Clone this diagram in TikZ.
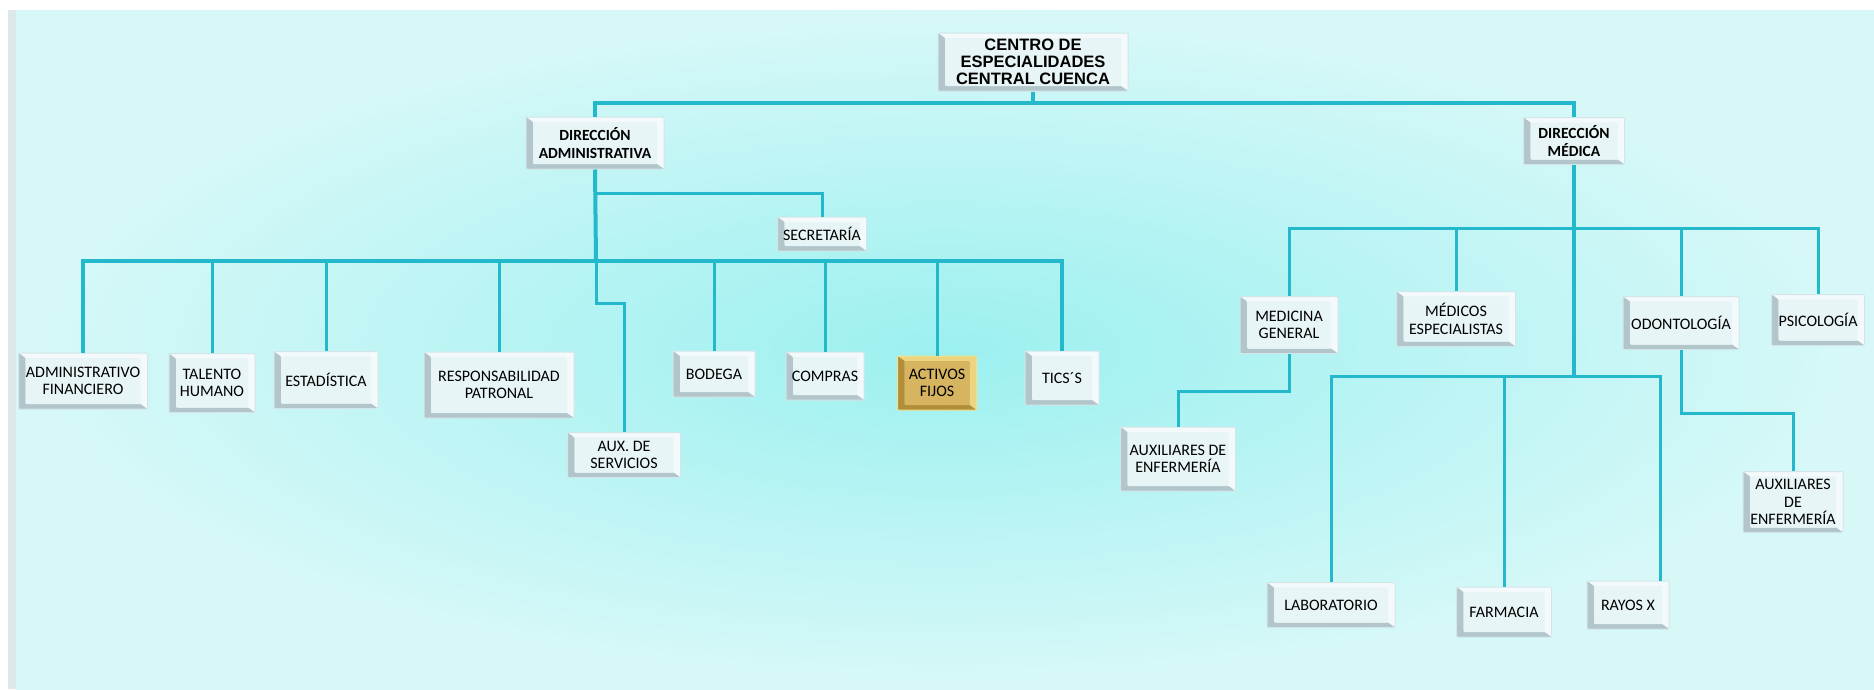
\documentclass[tikz,border=0pt]{standalone}
\usepackage{fontspec}
\setmainfont{Carlito}
\newfontfamily\titlefont{Liberation Sans}
\usepackage{tikz}
\usetikzlibrary{positioning}
\usetikzlibrary{calc}
\definecolor{mylink}{RGB}{35,184,204}
\definecolor{bgin}{RGB}{156,240,240}
\definecolor{bgout}{RGB}{216,248,248}
\definecolor{sidebar}{RGB}{220,232,234}
\definecolor{bevlight}{RGB}{244,250,251}
\definecolor{bevdark}{RGB}{178,197,202}
\definecolor{bevface}{RGB}{232,245,247}
\definecolor{bevedge}{RGB}{210,230,233}
\definecolor{goldlight}{RGB}{236,212,128}
\definecolor{golddark}{RGB}{178,142,58}
\definecolor{goldface}{RGB}{214,180,96}
\definecolor{goldedge}{RGB}{240,226,140}

\tikzset{
  bevel/.style n args={3}{
    fill=#3,
    path picture={
      \coordinate (bnw) at (path picture bounding box.north west);
      \coordinate (bse) at (path picture bounding box.south east);
      \coordinate (bne) at (bse |- bnw);
      \coordinate (bsw) at (bnw |- bse);
      \coordinate (inw) at ([shift={(7pt,-5pt)}]bnw);
      \coordinate (ise) at ([shift={(-7pt,5pt)}]bse);
      \coordinate (ine) at (ise |- inw);
      \coordinate (isw) at (inw |- ise);
      \fill[#1] (bnw) -- (bne) -- (bse) -- (ise) -- (ine) -- (inw) -- cycle;
      \fill[#2] (bnw) -- (bsw) -- (bse) -- (ise) -- (isw) -- (inw) -- cycle;
      \fill[#3] (inw) rectangle (ise);
    }},
  sz/.style 2 args={minimum width=#1pt, minimum height=#2pt},
  unitbox/.style={bevel={bevlight}{bevdark}{bevface}, draw=bevedge, line width=1pt,
    rounded corners=1pt, inner sep=0pt, align=center,
    font=\fontsize{16}{17.5}\selectfont},
  goldbox/.style={bevel={goldlight}{golddark}{goldface}, draw=goldedge},
  headbox/.style={font=\fontsize{15.5}{18}\selectfont\bfseries},
  rootbox/.style={font=\titlefont\fontsize{16.5}{17}\selectfont\bfseries}
}

\begin{document}
\begin{tikzpicture}[x=1pt,y=-1pt]
	\useasboundingbox (0,0) rectangle (1874,689);
	\fill[white] (0,0) rectangle (1874,689);
	\fill[sidebar] (8,10) rectangle (16,689);
	\shade[inner color=bgin, outer color=bgout] (16,10) rectangle (1874,689);

	\begin{scope}[every node/.style={unitbox}]
	    \node (centro) [rootbox, sz={190}{58}] at (1033,62) {CENTRO DE\\ESPECIALIDADES\\CENTRAL CUENCA};
	    \node (diradm) [headbox, sz={138}{52}] at (595,143) {DIRECCIÓN\\ADMINISTRATIVA};
	    \node (dirmed) [headbox, sz={101}{47}] at (1574,141) {DIRECCIÓN\\MÉDICA};

	    \node (secre) [sz={89}{34}] at (822,234) {SECRETARÍA};
	    \node (adfin) [sz={129}{56}] at (83,381) {ADMINISTRATIVO\\FINANCIERO};
	    \node (talento) [sz={86}{59}] at (212,383) {TALENTO\\HUMANO};
	    \node (estad) [sz={104}{57}] at (326,380) {ESTADÍSTICA};
	    \node (respon) [sz={150}{66}] at (499,385) {RESPONSABILIDAD\\PATRONAL};
	    \node (auxserv) [sz={113}{45}] at (624,455) {AUX. DE\\SERVICIOS};
	    \node (bodega) [sz={82}{46}] at (714,374) {BODEGA};
	    \node (compras) [sz={78}{48}] at (825,376) {COMPRAS};
	    \node (activos) [goldbox, sz={79}{54}] at (937,383) {ACTIVOS\\FIJOS};
	    \node (tics) [sz={74}{54}] at (1062,378) {TICS´S};

	    \node (medgen) [sz={98}{57}] at (1289,325) {MEDICINA\\GENERAL};
	    \node (medesp) [sz={119}{55}] at (1456,319) {MÉDICOS\\ESPECIALISTAS};
	    \node (odonto) [sz={116}{53}] at (1681,323) {ODONTOLOGÍA};
	    \node (psico) [sz={93}{51}] at (1818,320) {PSICOLOGÍA};
	    \node (auxenf) [sz={115}{64}] at (1178,459) {AUXILIARES DE\\ENFERMERÍA};
	    \node (auxenfb) [sz={100}{61}] at (1793,502) {AUXILIARES\\DE\\ENFERMERÍA};
	    \node (lab) [sz={128}{45}] at (1331,605) {LABORATORIO};
	    \node (farm) [sz={95}{50}] at (1504,612) {FARMACIA};
	    \node (rayos) [sz={82}{48}] at (1628,605) {RAYOS X};
	\end{scope}

	\coordinate (admbus) at (596,261);
	\coordinate (medbus) at (1574,228);
	\coordinate (medlow) at (1574,376);
	\coordinate (rayosin) at ([xshift=32pt]rayos.north);

	% trunks
	\begin{scope}[draw=mylink, line width=4pt]
	    \draw (centro.south) -- ++(0,11) -| (diradm.north);
	    \draw (centro.south) -- ++(0,11) -| (dirmed.north);
	    \draw (diradm.south) -- (admbus);
	    \draw (adfin.north) |- (admbus) -| (tics.north);
	    \draw (dirmed.south) -- (medlow);
	\end{scope}

	% branches
	\begin{scope}[draw=mylink, line width=3pt]
	    \draw (diradm.south) -- ++(0,24) -| (secre.north);
	    \draw (talento.north) -- (talento.north |- admbus);
	    \draw (estad.north) -- (estad.north |- admbus);
	    \draw (respon.north) -- (respon.north |- admbus);
	    \draw (admbus) -- ++(0,42) -| (auxserv.north);
	    \draw (bodega.north) -- (bodega.north |- admbus);
	    \draw (compras.north) -- (compras.north |- admbus);
	    \draw (activos.north) -- (activos.north |- admbus);

	    \draw (medgen.north) |- (medbus) -| (psico.north);
	    \draw (medesp.north) -- (medesp.north |- medbus);
	    \draw (odonto.north) -- (odonto.north |- medbus);
	    \draw (lab.north) |- (medlow) -| (rayosin);
	    \draw (farm.north) -- (farm.north |- medlow);
	    \draw (medgen.south) -- ++(0,37) -| (auxenf.north);
	    \draw (odonto.south) -- ++(0,63) -| (auxenfb.north);
	\end{scope}
\end{tikzpicture}
\end{document}
